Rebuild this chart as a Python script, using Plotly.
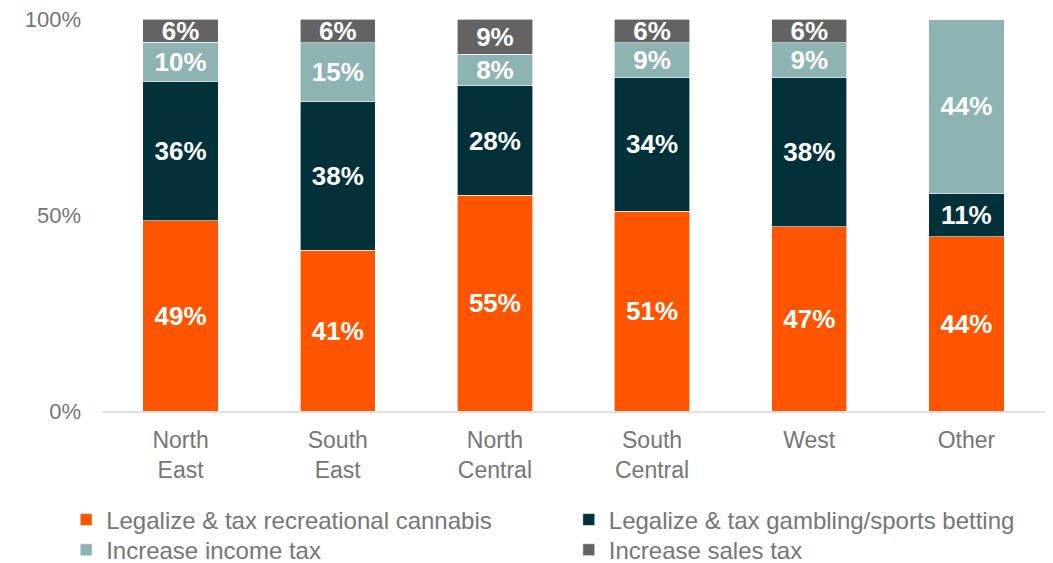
import plotly.graph_objects as go

regions = ["North<br>East", "South<br>East", "North<br>Central", "South<br>Central", "West", "Other"]

cannabis = [49, 41, 55, 51, 47, 44]
gambling = [36, 38, 28, 34, 38, 11]
income_tax = [10, 15, 8, 9, 9, 44]
sales_tax = [6, 6, 9, 6, 6, 0]

# name, values, colour, legend slot (2 x 2 grid under the plot)
series = [
    ("Legalize & tax recreational cannabis", cannabis, "#FF5500", "legend"),
    ("Legalize & tax gambling/sports betting", gambling, "#02313A", "legend2"),
    ("Increase income tax", income_tax, "#8DB3B2", "legend3"),
    ("Increase sales tax", sales_tax, "#636363", "legend4"),
]

fig = go.Figure()
for name, vals, color, leg in series:
    fig.add_trace(go.Bar(
        x=regions,
        y=vals,
        name=name,
        legend=leg,
        marker=dict(color=color, line=dict(color="white", width=0.6)),
        text=[f"{v}%" if v > 0 else "" for v in vals],
        textposition="inside",
        insidetextanchor="middle",
        textangle=0,
        constraintext="none",
        textfont=dict(family="Liberation Sans, Arial", size=26, color="white", weight="bold"),
        hoverinfo="skip",
    ))

legend_style = dict(
    orientation="v",
    xanchor="left",
    yanchor="middle",
    font=dict(family="Liberation Sans, Arial", size=24, color="#767676"),
    itemwidth=30,
    tracegroupgap=0,
    bgcolor="rgba(0,0,0,0)",
)
col_x = [-0.038, 0.495]
row_y = [-0.278, -0.355]

fig.update_layout(
    barmode="stack",
    barnorm="percent",
    bargap=0.52,
    width=1053,
    height=563,
    margin=dict(l=102, r=8, t=19, b=152, autoexpand=False),
    paper_bgcolor="white",
    plot_bgcolor="white",
    font=dict(family="Liberation Sans, Arial", size=22, color="#767676"),
    showlegend=True,
    xaxis=dict(
        showline=True,
        linecolor="#E0E0E0",
        linewidth=1.5,
        showgrid=False,
        ticks="",
        ticklabelstandoff=8,
        tickfont=dict(size=23, color="#767676"),
    ),
    yaxis=dict(
        range=[0, 100],
        tickvals=[0, 50, 100],
        ticktext=["0%", "50%", "100%"],
        showgrid=False,
        zeroline=False,
        showline=False,
        ticks="",
        ticklabelstandoff=20,
        tickfont=dict(size=22, color="#767676"),
    ),
    legend=dict(x=col_x[0], y=row_y[0], **legend_style),
    legend2=dict(x=col_x[1], y=row_y[0], **legend_style),
    legend3=dict(x=col_x[0], y=row_y[1], **legend_style),
    legend4=dict(x=col_x[1], y=row_y[1], **legend_style),
)

fig.write_html("out.html")
